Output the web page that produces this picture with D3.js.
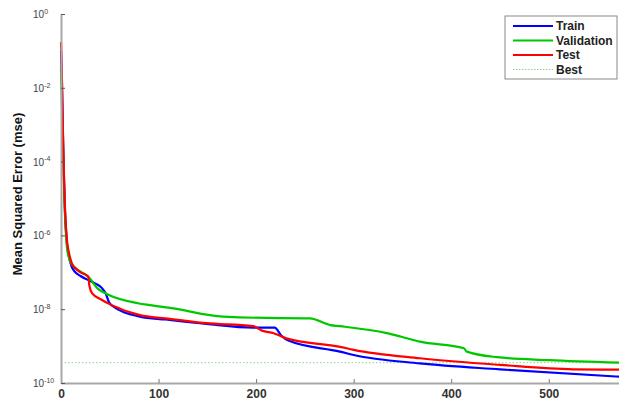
<!DOCTYPE html>
<html>
<head>
<meta charset="utf-8">
<script src="https://cdn.jsdelivr.net/npm/d3@7"></script>
<style>
  html, body { margin: 0; padding: 0; background: #fff; }
  svg { display: block; font-family: Arial, "Liberation Sans", sans-serif; }
</style>
</head>
<body>
<div id="chart"></div>
<script>
// datos (epocas y error cuadratico medio)
const trainEpochs = [0, 1, 2, 3, 4, 6, 8, 11, 14, 20, 28, 35, 42, 46, 49, 52, 81, 107, 149, 197, 219, 226, 233, 286, 300, 368, 450, 573];
const trainMse = [1.0e-1, 1.26e-2, 5.01e-4, 3.98e-5, 5.01e-6, 6.31e-7, 2.82e-7, 1.41e-7, 1.05e-7, 7.94e-8, 6.17e-8, 5.01e-8, 3.72e-8, 2.60e-8, 1.58e-8, 1.26e-8, 6.31e-9, 5.25e-9, 3.98e-9, 3.16e-9, 3.16e-9, 1.91e-9, 1.41e-9, 7.08e-10, 5.75e-10, 3.39e-10, 2.34e-10, 1.48e-10];

const validationEpochs = [0, 1, 2, 3, 4, 6, 8, 11, 20, 28, 38, 48, 79, 91, 115, 166, 252, 255, 276, 286, 334, 348, 368, 413, 416, 447, 500, 573];
const validationMse = [3.16e-2, 3.16e-3, 2.51e-4, 2.51e-5, 3.98e-6, 5.01e-7, 2.51e-7, 1.66e-7, 1.05e-7, 7.59e-8, 3.55e-8, 2.51e-8, 1.45e-8, 1.29e-8, 1.05e-8, 6.31e-9, 5.62e-9, 5.62e-9, 3.72e-9, 3.47e-9, 2.24e-9, 1.82e-9, 1.32e-9, 8.71e-10, 7.08e-10, 5.01e-10, 4.17e-10, 3.55e-10];

const testEpochs = [0, 1, 2, 3, 4, 6, 8, 11, 15, 20, 28, 29, 32, 42, 52, 81, 107, 149, 197, 206, 218, 231, 286, 300, 368, 450, 525, 573];
const testMse = [1.74e-1, 1.58e-2, 6.31e-4, 5.01e-5, 6.31e-6, 7.94e-7, 3.55e-7, 1.78e-7, 1.26e-7, 1.0e-7, 7.59e-8, 4.47e-8, 2.69e-8, 1.78e-8, 1.29e-8, 6.92e-9, 5.62e-9, 4.17e-9, 3.47e-9, 2.63e-9, 2.24e-9, 1.62e-9, 9.55e-10, 7.94e-10, 4.68e-10, 3.09e-10, 2.34e-10, 2.29e-10];

const bestMse = 3.55e-10;

const xTicks = [0, 100, 200, 300, 400, 500];
const yTicks = [1, 1e-2, 1e-4, 1e-6, 1e-8, 1e-10];
const yTickExponents = ["0", "-2", "-4", "-6", "-8", "-10"];

const seriesNames = ["Train", "Validation", "Test", "Best"];
const seriesColors = ["#0000ff", "#00c800", "#ff0000", "#8fcf8f"];

// medidas
const width = 619;
const height = 405;
const margin = { top: 14, right: 0, bottom: 22, left: 61 };

const svg = d3
  .select("#chart")
  .append("svg")
  .attr("width", width)
  .attr("height", height);

const x = d3.scaleLinear().domain([0, 572]).range([margin.left, width]);
const y = d3
  .scaleLog()
  .domain([1e-10, 1])
  .range([height - margin.bottom, margin.top]);

// linea de "Best"
svg
  .append("line")
  .attr("x1", margin.left)
  .attr("x2", width)
  .attr("y1", y(bestMse))
  .attr("y2", y(bestMse))
  .attr("stroke", seriesColors[3])
  .attr("stroke-width", 1)
  .attr("stroke-dasharray", "1.5,2");

// curvas
const line = d3
  .line()
  .x((d) => x(d[0]))
  .y((d) => y(d[1]))
  .curve(d3.curveMonotoneX);

const series = [
  d3.zip(trainEpochs, trainMse),
  d3.zip(validationEpochs, validationMse),
  d3.zip(testEpochs, testMse),
];

svg
  .append("g")
  .attr("class", "curves")
  .selectAll("path")
  .data(series)
  .join("path")
  .attr("d", line)
  .attr("fill", "none")
  .attr("stroke", (d, i) => seriesColors[i])
  .attr("stroke-width", 2.2)
  .attr("stroke-linejoin", "round");

// eje x
const xAxis = svg
  .append("g")
  .attr("transform", `translate(0,${height - margin.bottom})`)
  .call(
    d3
      .axisBottom(x)
      .tickValues(xTicks)
      .tickSizeInner(-4)
      .tickSizeOuter(0)
      .tickPadding(6)
  );

xAxis.select(".domain").attr("stroke", "#a8a8a8").attr("stroke-width", 2);
xAxis.selectAll(".tick line").attr("stroke", "#777");
xAxis
  .selectAll(".tick text")
  .attr("fill", "#333")
  .style("font-size", "12px")
  .style("font-weight", "bold")
  .style("font-family", "Arial, 'Liberation Sans', sans-serif");

// eje y (potencias de diez)
const yAxis = svg
  .append("g")
  .attr("transform", `translate(${margin.left},0)`)
  .call(
    d3
      .axisLeft(y)
      .tickValues(yTicks)
      .tickFormat(() => "")
      .tickSizeInner(-4)
      .tickSizeOuter(0)
  );

yAxis.select(".domain").attr("stroke", "#a8a8a8").attr("stroke-width", 2);
yAxis.selectAll(".tick line").attr("stroke", "#555");

const yLabel = yAxis
  .selectAll(".tick text")
  .attr("x", -28)
  .attr("dy", "0.35em")
  .attr("fill", "#444")
  .attr("text-anchor", "start")
  .style("font-size", "10px")
  .style("font-family", "Arial, 'Liberation Sans', sans-serif");

yLabel.each(function (d, i) {
  const t = d3.select(this);
  t.append("tspan").text("10");
  t.append("tspan")
    .attr("dy", "-0.6em")
    .style("font-size", "7px")
    .text(yTickExponents[i]);
});

// titulo del eje y
svg
  .append("text")
  .attr("transform", "translate(17,194) rotate(-90)")
  .attr("text-anchor", "middle")
  .attr("dy", "0.35em")
  .attr("fill", "#111")
  .style("font-size", "13px")
  .style("font-weight", "bold")
  .text("Mean Squared Error  (mse)");

// leyenda
const legend = svg.append("g").attr("transform", "translate(505,16)");

legend
  .append("rect")
  .attr("width", 112)
  .attr("height", 63)
  .attr("fill", "#fff")
  .attr("stroke", "#8a8a8a")
  .attr("stroke-width", 1);

const legendItem = legend
  .selectAll("g")
  .data(seriesNames)
  .join("g")
  .attr("transform", (d, i) => `translate(0,${10 + i * 14.5})`);

legendItem
  .append("line")
  .attr("x1", 8)
  .attr("x2", 48)
  .attr("stroke", (d, i) => seriesColors[i])
  .attr("stroke-width", (d, i) => (i === 3 ? 1 : 2))
  .attr("stroke-dasharray", (d, i) => (i === 3 ? "1.5,1.5" : null));

legendItem
  .append("text")
  .attr("x", 51)
  .attr("dy", "0.35em")
  .attr("fill", "#222")
  .style("font-size", "12px")
  .style("font-weight", "bold")
  .text((d) => d);
</script>
</body>
</html>
